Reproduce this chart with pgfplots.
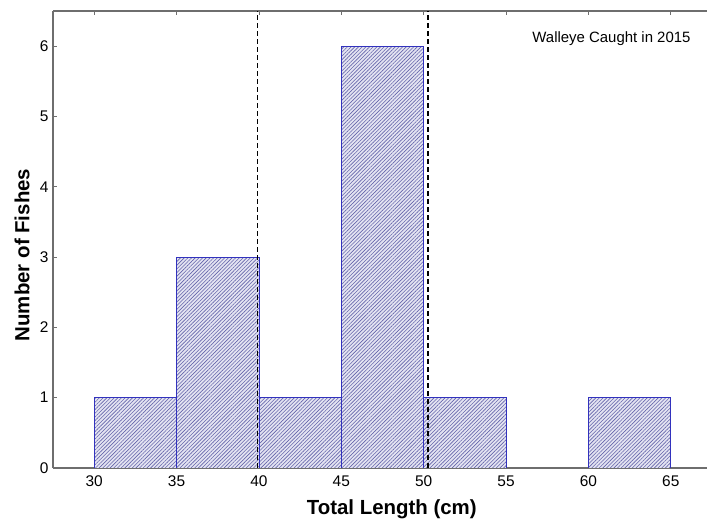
\documentclass[border=0pt]{standalone}
\usepackage{fontspec}
\setmainfont{Liberation Sans}
\usepackage{pgfplots}
\pgfplotsset{compat=1.18}
\usetikzlibrary{patterns.meta}
\definecolor{axgray}{RGB}{110,110,110}
\definecolor{barblue}{RGB}{50,50,190}
\definecolor{hatch}{RGB}{100,100,170}
\definecolor{barfill}{RGB}{228,228,242}

\begin{document}
\begin{tikzpicture}
\begin{axis}[
    scale only axis,
    width=654bp, height=457bp,
    xmin=27.5, xmax=67.2,
    ymin=0, ymax=6.5,
    axis x line=box,
    axis y line*=left,
    axis line style={axgray, line width=1.2bp},
    xtick={30,35,...,65},
    ytick={0,1,...,6},
    tick align=inside,
    major tick length=4bp,
    tick style={axgray, line width=0.6bp},
    /pgf/number format/assume math mode=true,
    tick label style={font=\fontsize{15.5}{17}\selectfont},
    xticklabel style={yshift=-4bp},
    yticklabel style={xshift=-1bp},
    xlabel={\textbf{Total Length (cm)}},
    ylabel={\textbf{Number of Fishes}},
    label style={font=\fontsize{20.5}{22}\selectfont},
    xlabel style={at={(axis description cs:0.518,0)}, anchor=center, yshift=-41bp},
    ylabel style={at={(axis description cs:0,0.466)}, anchor=center, yshift=31bp},
    clip=true,
]
  % histogram bins of width 5 cm
  \addplot[ybar interval, draw=barblue, line width=0.8bp, fill=barfill,
    postaction={pattern={Lines[angle=45, distance=2.6bp, line width=0.6bp]}, pattern color=hatch}]
    coordinates {(30,1) (35,3) (40,1) (45,6) (50,1) (55,1)};
  \addplot[ybar interval, draw=barblue, line width=0.8bp, fill=barfill,
    postaction={pattern={Lines[angle=45, distance=2.6bp, line width=0.6bp]}, pattern color=hatch}]
    coordinates {(60,1) (65,1)};
  % dashed reference lines
  \addplot[black, line width=1.5bp, dash pattern=on 5bp off 3bp]
    coordinates {(39.9,0) (39.9,6.5)};
  \addplot[black, line width=1.5bp, dash pattern=on 5bp off 3bp]
    coordinates {(50.25,0) (50.25,6.5)};
  \node[font=\fontsize{15}{17}\selectfont, anchor=center] at (axis cs:61.4,6.1) {Walleye Caught in 2015};
\end{axis}
\pgfresetboundingbox
\path[use as bounding box] ([xshift=-53bp,yshift=-55bp]current axis.south west)
  rectangle ([yshift=11bp]current axis.north east);
\end{tikzpicture}
\end{document}
